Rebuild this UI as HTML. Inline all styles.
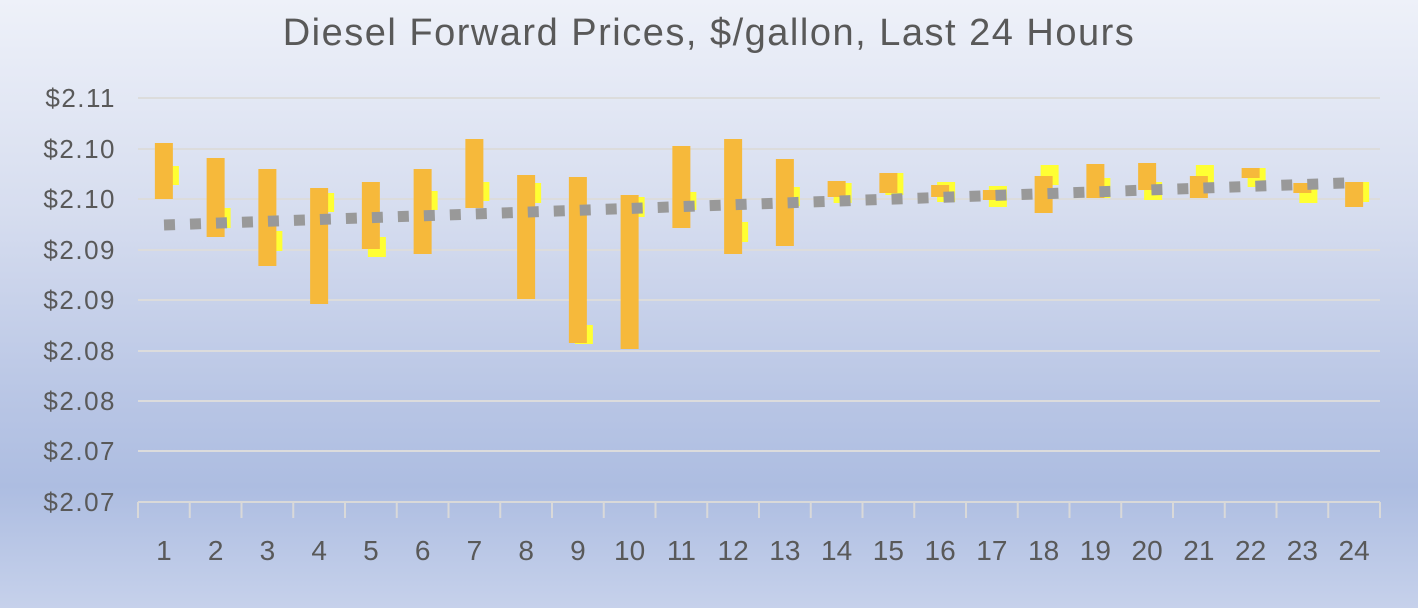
<!DOCTYPE html>
<html><head><meta charset="utf-8"><style>
html,body{margin:0;padding:0;width:1418px;height:608px;overflow:hidden}
body{background:linear-gradient(180deg,#eef1f9 0%,#d6ddef 35%,#b9c6e5 65%,#adbde1 80%,#c6d1eb 100%);font-family:"Liberation Sans",sans-serif}
</style></head><body>
<svg id="s" width="1418" height="608" xmlns="http://www.w3.org/2000/svg">
<text x="709" y="45" text-anchor="middle" font-size="38" letter-spacing="1.5" fill="#595959" font-family="Liberation Sans, sans-serif">Diesel Forward Prices, $/gallon, Last 24 Hours</text>
<g id="g"></g>
</svg>
<script>
const g=document.getElementById('g');let h='';
const grid=[98,149,199,250,300,351,401,451];
const labs=['$2.11','$2.10','$2.10','$2.09','$2.09','$2.08','$2.08','$2.07','$2.07'];
grid.forEach(y=>{h+=`<line x1="138" x2="1380" y1="${y}" y2="${y}" stroke="#dcdcdc" stroke-width="2"/>`});
h+=`<line x1="138" x2="1380" y1="502" y2="502" stroke="#d9d9d9" stroke-width="2"/>`;
[...grid,502].forEach((y,i)=>{h+=`<text x="116" y="${y+9}" text-anchor="end" font-size="26" letter-spacing="1.5" fill="#595959">${labs[i]}</text>`});
const w=(1380-138)/24;
for(let k=0;k<=24;k++){const x=138+k*w;h+=`<line x1="${x}" x2="${x}" y1="502" y2="518" stroke="#d9d9d9" stroke-width="2"/>`}
const O=[[143,199],[158,237],[169,266],[188,304],[182,249],[169,254],[139,208],[175,299],[177,343],[195,349],[146,228],[139,254],[159,246],[181,197],[173,193],[185,197],[190,200],[176,213],[164,198],[163,190],[176,198],[168,178],[183,193],[182,207]];
const Y=[[166,185],[208,228],[231,251],[193,212],[237,257],[191,210],[182,201],[183,203],[325,344],[197,217],[192,210],[222,242],[187,206],[183,203],[173,195],[182,202],[186,207],[165,185],[178,198],[182,200],[165,185],[168,187],[183,203],[182,202]];
for(let i=0;i<24;i++){const c=138+(i+0.5)*w;
h+=`<rect x="${c-3}" y="${Y[i][0]}" width="18" height="${Y[i][1]-Y[i][0]}" fill="#ffff33"/>`;
h+=`<rect x="${c-9}" y="${O[i][0]}" width="18" height="${O[i][1]-O[i][0]}" fill="#f6b93b"/>`;
h+=`<text x="${c}" y="560" text-anchor="middle" font-size="28" fill="#595959">${i+1}</text>`;}
h+=`<line x1="164" y1="225" x2="1345" y2="183" stroke="#999" stroke-width="11" stroke-dasharray="11 15"/>`;
g.innerHTML=h;
</script>
</body></html>
